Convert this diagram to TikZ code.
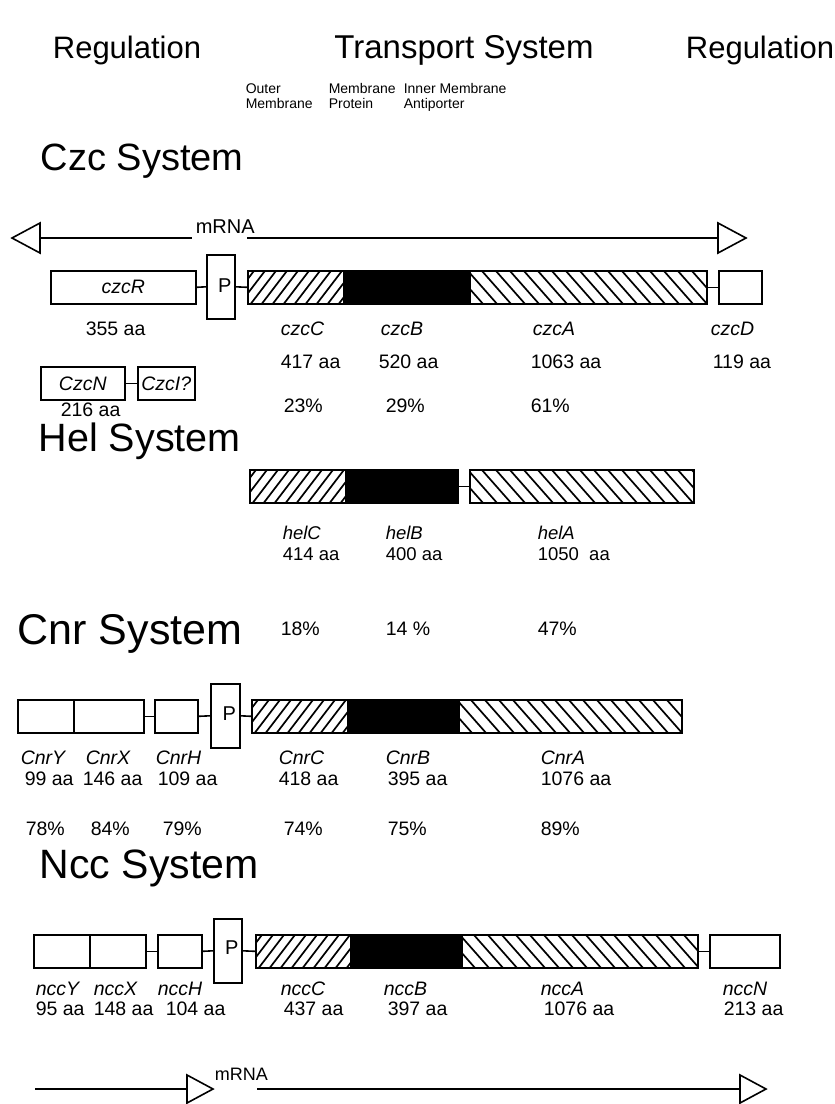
\documentclass[tikz,border=0pt]{standalone}
\usepackage{fontspec}
\setmainfont{Liberation Sans}
\newcommand\mkbox[6]{\node[#5, minimum width={(#3-#2)*1pt}, anchor=north west] (#1) at (#2,#4) {#6};}
\begin{document}
\begin{tikzpicture}[x=1pt,y=-1pt,
  line width=1.6pt,
  gb/.style={draw, line width=1.6pt, inner sep=0pt, minimum height=33pt, font=\itshape\fontsize{19.5}{19.5}\selectfont},
  pb/.style={draw, line width=1.6pt, inner sep=0pt, minimum height=64pt, font=\fontsize{20}{20}\selectfont},
  blk/.style={gb, fill=black},
  fwd/.style={gb, path picture={\foreach \k in {0,...,16}{\draw[line width=1.7pt] ([xshift=\k*11pt-30pt]path picture bounding box.south west) -- ++(26pt,34pt);}}},
  bwd/.style={gb, path picture={\foreach \k in {0,...,22}{\draw[line width=1.7pt] ([xshift=\k*14pt-30pt]path picture bounding box.north west) -- ++(30pt,-34pt);}}},
  ptxt/.style={font=\fontsize{20}{20}\selectfont, inner sep=0pt},
  head/.style={font=\fontsize{31}{31}\selectfont, inner sep=0pt, anchor=base},
  sub/.style={font=\fontsize{14}{14}\selectfont, inner sep=0pt, anchor=base west},
  sys/.style={inner sep=0pt, anchor=base west},
  gl/.style={font=\itshape\fontsize{19.5}{19.5}\selectfont, inner sep=0pt, anchor=base west},
  aa/.style={font=\fontsize{19.5}{19.5}\selectfont, inner sep=0pt, anchor=base west},
  hgl/.style={font=\itshape\fontsize{18.5}{18.5}\selectfont, inner sep=0pt, anchor=base west},
  haa/.style={font=\fontsize{18.5}{18.5}\selectfont, inner sep=0pt, anchor=base west},
  pc/.style={font=\fontsize{19.5}{19.5}\selectfont, inner sep=0pt, anchor=base west},
  mr/.style={font=\fontsize{20}{20}\selectfont, inner sep=0pt, anchor=base west},
  conn/.style={line width=1.6pt},
  tri/.style={line width=1.6pt, fill=white}
]
\useasboundingbox (0,0) rectangle (835,1104);

% headers
\node[head] (h1) at (127,58) {Regulation};
\node[head, font=\fontsize{33}{33}\selectfont] (h2) at (464,58) {Transport System};
\node[head] (h3) at (760,58) {Regulation};
\node[sub] (s1a) at (245,93) {Outer};
\node[sub] (s1b) at (245,108) {Membrane};
\node[sub] (s2a) at (328,93) {Membrane};
\node[sub] (s2b) at (328,108) {Protein};
\node[sub] (s3a) at (403,93) {Inner Membrane};
\node[sub] (s3b) at (403,108) {Antiporter};

% ---------------- Czc ----------------
\node[sys, font=\fontsize{38}{38}\selectfont] (czcT) at (40,170) {Czc System};
\coordinate (m1a) at (40,238);
\coordinate (m1b) at (192,238);
\coordinate (m1c) at (247,238);
\coordinate (m1d) at (718,238);
\draw[conn] (m1a) -- (m1b);
\draw[conn] (m1c) -- (m1d);
\draw[tri] (m1a) -- ++(0,-15) -- ++(-28,15) -- ++(28,15) -- cycle;
\draw[tri] (m1d) -- ++(0,-15) -- ++(28,15) -- ++(-28,15) -- cycle;
\node[mr] (m1t) at (195,233) {mRNA};

\mkbox{czcR}{50}{195}{270}{gb}{czcR}
\mkbox{czcP}{206}{234}{254}{pb}{}
\node[ptxt] (czcPt) at ([xshift=4pt,yshift=1pt]czcP.center) {P};
\mkbox{czcC}{247}{343}{270}{fwd}{}
\mkbox{czcB}{343}{469}{270}{blk}{}
\mkbox{czcA}{469}{706}{270}{bwd}{}
\mkbox{czcD}{718}{761}{270}{gb}{}
\draw[conn] (czcR.east) -- (czcP.west);
\draw[conn] (czcP.east) -- (czcC.west);
\draw[conn] (czcA.east) -- (czcD.west);

\node[aa] (l355) at (85,335) {355 aa};
\node[gl] (lczcC) at (280,335) {czcC};
\node[gl] (lczcB) at (380,335) {czcB};
\node[gl] (lczcA) at (532,335) {czcA};
\node[gl] (lczcD) at (710,335) {czcD};
\node[aa] (a417) at (280,368) {417 aa};
\node[aa] (a520) at (378,368) {520 aa};
\node[aa] (a1063) at (530,368) {1063 aa};
\node[aa] (a119) at (712,368) {119 aa};

\mkbox{czcN}{40}{124}{366}{gb}{CzcN}
\mkbox{czcI}{137}{194}{366}{gb}{CzcI?}
\draw[conn] (czcN.east) -- (czcI.west);
\node[aa] (a216) at (60,416) {216 aa};
\node[pc] (p23) at (283,412) {23\%};
\node[pc] (p29) at (385,412) {29\%};
\node[pc] (p61) at (530,412) {61\%};

% ---------------- Hel ----------------
\node[sys, font=\fontsize{39.5}{39.5}\selectfont] (helT) at (38,451) {Hel System};
\mkbox{helC}{249}{345}{469}{fwd}{}
\mkbox{helB}{345}{457}{469}{blk}{}
\mkbox{helA}{469}{693}{469}{bwd}{}
\draw[conn] (helB.east) -- (helA.west);
\node[hgl] (lhelC) at (282,539) {helC};
\node[hgl] (lhelB) at (385,539) {helB};
\node[hgl] (lhelA) at (537,539) {helA};
\node[haa] (a414) at (282,560) {414 aa};
\node[haa] (a400) at (385,560) {400 aa};
\node[haa] (a1050) at (537,560) {1050\ \ aa};

% ---------------- Cnr ----------------
\node[sys, font=\fontsize{43}{43}\selectfont] (cnrT) at (17,644) {Cnr System};
\node[pc] (p18) at (280,635) {18\%};
\node[pc] (p14) at (385,635) {14 \%};
\node[pc] (p47) at (537,635) {47\%};

\mkbox{cnrY}{17}{73}{699}{gb}{}
\mkbox{cnrX}{73}{143}{699}{gb}{}
\mkbox{cnrH}{154}{197}{699}{gb}{}
\mkbox{cnrP}{210}{239}{683}{pb}{}
\node[ptxt] (cnrPt) at ([xshift=4pt,yshift=2pt]cnrP.center) {P};
\mkbox{cnrC}{251}{347}{699}{fwd}{}
\mkbox{cnrB}{347}{458}{699}{blk}{}
\mkbox{cnrA}{458}{681}{699}{bwd}{}
\draw[conn] (cnrX.east) -- (cnrH.west);
\draw[conn] (cnrH.east) -- (cnrP.west);
\draw[conn] (cnrP.east) -- (cnrC.west);

\node[gl] (lcnrY) at (20,764) {CnrY};
\node[gl] (lcnrX) at (85,764) {CnrX};
\node[gl] (lcnrH) at (155,764) {CnrH};
\node[gl] (lcnrC) at (278,764) {CnrC};
\node[gl] (lcnrB) at (385,764) {CnrB};
\node[gl] (lcnrA) at (540,764) {CnrA};
\node[aa] (a99) at (24,785) {99 aa};
\node[aa] (a146) at (82,785) {146 aa};
\node[aa] (a109) at (157,785) {109 aa};
\node[aa] (a418) at (278,785) {418 aa};
\node[aa] (a395) at (387,785) {395 aa};
\node[aa] (a1076c) at (540,785) {1076 aa};
\node[pc] (p78) at (25,835) {78\%};
\node[pc] (p84) at (90,835) {84\%};
\node[pc] (p79) at (162,835) {79\%};
\node[pc] (p74) at (283,835) {74\%};
\node[pc] (p75) at (387,835) {75\%};
\node[pc] (p89) at (540,835) {89\%};

% ---------------- Ncc ----------------
\node[sys, font=\fontsize{41}{41}\selectfont] (nccT) at (39,878) {Ncc System};
\mkbox{nccY}{33}{89}{934}{gb}{}
\mkbox{nccX}{89}{145}{934}{gb}{}
\mkbox{nccH}{157}{201}{934}{gb}{}
\mkbox{nccP}{213}{241}{918}{pb}{}
\node[ptxt] (nccPt) at ([xshift=4pt,yshift=3pt]nccP.center) {P};
\mkbox{nccC}{255}{350}{934}{fwd}{}
\mkbox{nccB}{350}{461}{934}{blk}{}
\mkbox{nccA}{461}{697}{934}{bwd}{}
\mkbox{nccN}{709}{779}{934}{gb}{}
\draw[conn] (nccX.east) -- (nccH.west);
\draw[conn] (nccH.east) -- (nccP.west);
\draw[conn] (nccP.east) -- (nccC.west);
\draw[conn] (nccA.east) -- (nccN.west);

\node[gl] (lnccY) at (35,995) {nccY};
\node[gl] (lnccX) at (93,995) {nccX};
\node[gl] (lnccH) at (157,995) {nccH};
\node[gl] (lnccC) at (280,995) {nccC};
\node[gl] (lnccB) at (383,995) {nccB};
\node[gl] (lnccA) at (540,995) {nccA};
\node[gl] (lnccN) at (722,995) {nccN};
\node[aa] (a95) at (35,1015) {95 aa};
\node[aa] (a148) at (93,1015) {148 aa};
\node[aa] (a104) at (165,1015) {104 aa};
\node[aa] (a437) at (283,1015) {437 aa};
\node[aa] (a397) at (387,1015) {397 aa};
\node[aa] (a1076n) at (543,1015) {1076 aa};
\node[aa] (a213) at (723,1015) {213 aa};

% bottom mRNA
\coordinate (m2a) at (35,1089);
\coordinate (m2b) at (187,1089);
\coordinate (m2c) at (257,1089);
\coordinate (m2d) at (740,1089);
\draw[conn] (m2a) -- (m2b);
\draw[conn] (m2c) -- (m2d);
\draw[tri] (m2b) -- ++(0,-14) -- ++(26,14) -- ++(-26,14) -- cycle;
\draw[tri] (m2d) -- ++(0,-14) -- ++(26,14) -- ++(-26,14) -- cycle;
\node[mr, font=\fontsize{18}{18}\selectfont] (m2t) at (214,1080) {mRNA};
\end{tikzpicture}
\end{document}
